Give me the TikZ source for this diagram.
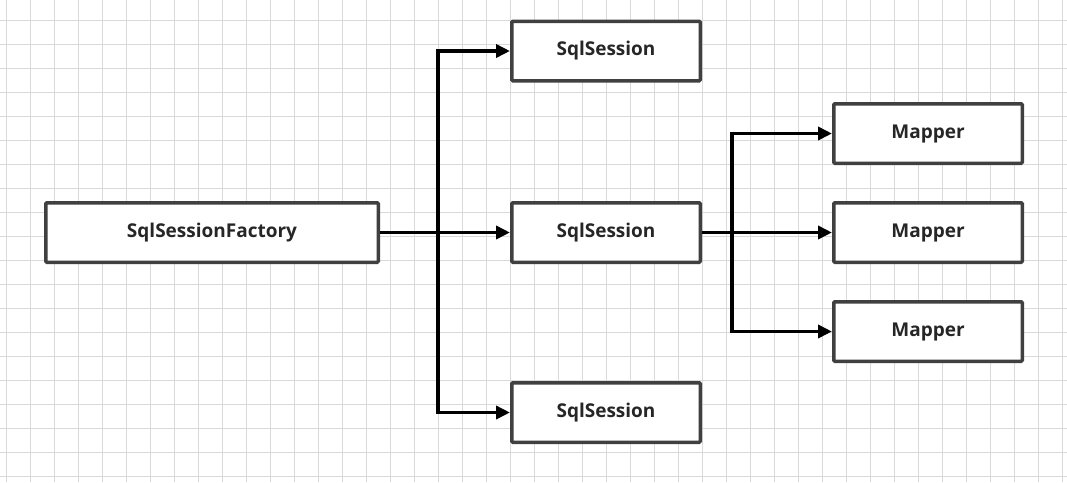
\documentclass[tikz,border=0pt]{standalone}
\usepackage{fontspec}
\setmainfont{Open Sans}
\usetikzlibrary{positioning, arrows.meta}
\definecolor{rasterfarbe}{HTML}{D9D9D9}
\definecolor{randfarbe}{HTML}{404040}
\tikzset{kasten/.style={rectangle,draw=randfarbe,line width=3.5pt,fill=white,rounded corners=1pt,
		minimum height=59.5pt,font=\bfseries\fontsize{19}{22}\selectfont,text=black!85},
	breit/.style={minimum width=332.5pt},
	schmal/.style={minimum width=188.5pt},
	pfeil/.style={line width=3.5pt,-{Triangle[length=14pt,width=13pt]}},
	helper/.style={inner sep=0} }

\begin{document}
\begin{tikzpicture}[x=1pt,y=-1pt]
  \useasboundingbox (0,0) rectangle (1067,482);
  % raster
  \foreach \x in {6,30,...,1062} \draw[rasterfarbe,line width=1pt] (\x,0) -- (\x,482);
  \foreach \y in {20,44,...,480} \draw[rasterfarbe,line width=1pt] (0,\y) -- (1067,\y);

  \node (fab) [kasten, breit] at (212,232.5) {SqlSessionFactory};
  \node (s1) [kasten, schmal] at (606,51) {SqlSession};
  \node (s2) [kasten, schmal] at (606,232.5) {SqlSession};
  \node (s3) [kasten, schmal] at (606,412.5) {SqlSession};
  \node (m1) [kasten, schmal] at (928,133.5) {Mapper};
  \node (m2) [kasten, schmal] at (928,232.5) {Mapper};
  \node (m3) [kasten, schmal] at (928,331.5) {Mapper};

  \coordinate (k1) at (438,232.5);
  \coordinate (k2) at (732,232.5);

  \draw [pfeil] (fab) -- (s2);
  \draw [pfeil] (k1) |- (s1);
  \draw [pfeil] (k1) |- (s3);
  \draw [pfeil] (s2) -- (m2);
  \draw [pfeil] (k2) |- (m1);
  \draw [pfeil] (k2) |- (m3);
\end{tikzpicture}
\end{document}
